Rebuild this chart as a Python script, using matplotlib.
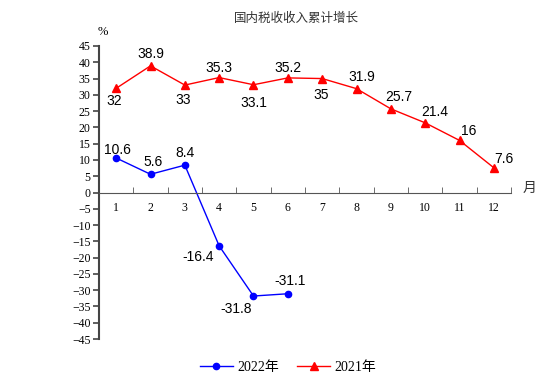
import numpy as np
import matplotlib.pyplot as plt

plt.rcParams['font.family'] = ['Liberation Serif', 'Noto Sans CJK SC']

months = list(range(1, 13))
growth_2021 = [32, 38.9, 33, 35.3, 33.1, 35.2, 35, 31.9, 25.7, 21.4, 16, 7.6]
months_2022 = [1, 2, 3, 4, 5, 6]
growth_2022 = [10.6, 5.6, 8.4, -16.4, -31.8, -31.1]

# label offsets in pixels (dx, dy), dy positive = up
off_2021 = [(-2, -13), (0, 12), (-2, -15), (0, 10), (0, -18), (0, 10),
            (-1, -16), (5, 12), (8, 12), (10, 11), (9, 9), (10, 9)]
off_2022 = [(1, 8), (3, 12), (0, 12), (-21, -11), (-17, -13), (2, 13)]

fig = plt.figure(figsize=(5.54, 3.92), dpi=100)
ax = fig.add_axes([99/554, 1-339/392, 412/554, 293/392])

ax.plot(months_2022, growth_2022, color='blue', lw=1, marker='o', ms=4.5, label='2022年')
ax.plot(months, growth_2021, color='red', lw=1, marker='^', ms=5.5, label='2021年')

k = 72/100
for x, y, (dx, dy) in zip(months, growth_2021, off_2021):
    ax.annotate(f'{y:g}', (x, y), xytext=(dx*k, dy*k), textcoords='offset points',
                ha='center', va='center', fontsize=10, family='Liberation Sans')
for x, y, (dx, dy) in zip(months_2022, growth_2022, off_2022):
    ax.annotate(f'{y:g}', (x, y), xytext=(dx*k, dy*k), textcoords='offset points',
                ha='center', va='center', fontsize=10, family='Liberation Sans')

ax.set_xlim(0.5, 12.5)
ax.set_ylim(-45, 45)
ax.set_yticks(np.arange(-45, 46, 5))
ax.set_xticks(months)
ax.set_xticks(np.arange(1.5, 12.6, 1), minor=True)

ax.spines['top'].set_visible(False)
ax.spines['right'].set_visible(False)
ax.spines['bottom'].set_position(('data', 0))
ax.spines['bottom'].set_color('#555555')
ax.spines['left'].set_color('#444444')
ax.spines['left'].set_linewidth(1.5)

ax.tick_params(axis='y', direction='out', length=4, width=1.2, color='#444444',
               labelsize=8.5, pad=2)
ax.tick_params(axis='x', which='major', length=0, labelsize=8.5, pad=7)
ax.tick_params(axis='x', which='minor', direction='in', length=4, color='#555555')

fig.text(296/554, 1-18/392, '国内税收收入累计增长', ha='center', va='center', fontsize=9,
         family=['Noto Sans CJK SC'], color='#333333')
fig.text(103/554, 1-32/392, '%', ha='center', va='center', fontsize=9)
fig.text(530/554, 1-188/392, '月', ha='center', va='center', fontsize=10,
         family=['Noto Sans CJK SC'], color='#333333')

fig.legend(loc='center', bbox_to_anchor=(288/554, 1-367/392), ncol=2, frameon=False,
           fontsize=10, handlelength=2.4, handletextpad=0.3, columnspacing=1.3)

fig.savefig('out.png', dpi=100)
